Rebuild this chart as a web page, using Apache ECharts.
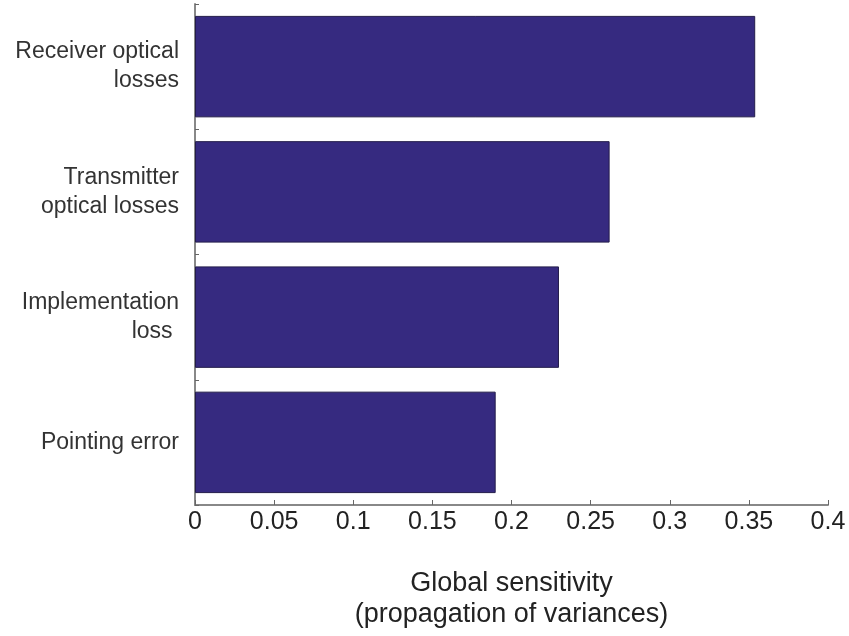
<!DOCTYPE html>
<html>
<head>
<meta charset="utf-8">
<script src="https://cdn.jsdelivr.net/npm/echarts@6/dist/echarts.min.js"></script>
<style>html,body{margin:0;padding:0;background:#fff;}#c{width:849px;height:636px;}</style>
</head>
<body>
<div id="c"></div>
<script>
const categories = ['Pointing error', 'Implementation\nloss ', 'Transmitter\noptical losses', 'Receiver optical\nlosses'];
const values = [0.190, 0.230, 0.262, 0.354];
const xTicks = { min: 0, max: 0.4, interval: 0.05 };
const xName = 'Global sensitivity\n(propagation of variances)';

const chart = echarts.init(document.getElementById('c'), null, { renderer: 'canvas' });
chart.setOption({
  animation: false,
  backgroundColor: '#fff',
  grid: { left: 195, right: 21, top: 4, bottom: 131, containLabel: false },
  xAxis: {
    type: 'value', min: xTicks.min, max: xTicks.max, interval: xTicks.interval,
    name: xName, nameLocation: 'middle', nameGap: 63,
    nameTextStyle: { fontFamily: 'Liberation Sans', fontSize: 27, color: '#222', lineHeight: 31 },
    axisLine: { show: true, lineStyle: { color: '#888', width: 2 } },
    axisTick: { show: true, inside: true, length: 5, lineStyle: { color: '#666', width: 1 } },
    splitLine: { show: false },
    axisLabel: {
      margin: 5, fontFamily: 'Liberation Sans', fontSize: 25, color: '#222',
      formatter: v => String(parseFloat(v.toFixed(2)))
    }
  },
  yAxis: {
    type: 'category', data: categories,
    axisLine: { show: true, lineStyle: { color: '#888', width: 2 } },
    axisTick: { show: true, inside: true, length: 4, alignWithLabel: false, lineStyle: { color: '#666', width: 1 } },
    axisLabel: { margin: 16, fontFamily: 'Liberation Sans', fontSize: 23, color: '#333', lineHeight: 29, align: 'right' }
  },
  series: [{
    type: 'bar', data: values, barCategoryGap: '19%',
    itemStyle: { color: '#362a80', borderColor: '#231c4a', borderWidth: 1 }
  }]
});
</script>
</body>
</html>
